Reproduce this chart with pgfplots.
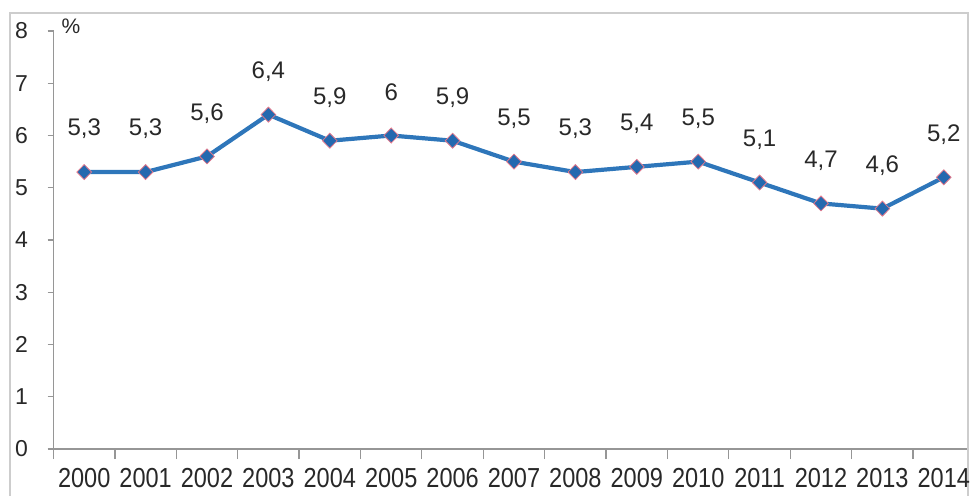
\documentclass[border=0pt]{standalone}
\usepackage{fontspec}
\setmainfont{Liberation Sans}
\usepackage{graphicx}
\usepackage{pgfplots}
\pgfplotsset{compat=1.18}
\definecolor{lineblue}{RGB}{46,118,186}
\definecolor{mkblue}{RGB}{36,105,175}
\definecolor{mkedge}{RGB}{225,120,140}
\definecolor{axgray}{RGB}{150,150,150}
\definecolor{frgray}{RGB}{205,205,205}
\definecolor{txt}{RGB}{40,40,40}
\newcommand\xl[1]{\scalebox{1.07}[1.25]{#1}}
\begin{document}
\begin{tikzpicture}[x=1pt,y=1pt]
\path[use as bounding box, clip] (0,0) rectangle (973,495);
\draw[frgray, line width=1.2pt] (10,-20) -- (10,482) -- (968,482) -- (968,-20);
\begin{axis}[at={(53.5pt,46pt)}, anchor=south west, scale only axis,
  width=913pt, height=418pt,
  xmin=-0.5, xmax=14.37, ymin=0, ymax=8,
  axis lines=left, axis line style={-, axgray, line width=1.5pt},
  clip=false,
  /pgf/number format/assume math mode=true,
  xtick={0,...,14},
  xticklabels={\xl{2000},\xl{2001},\xl{2002},\xl{2003},\xl{2004},\xl{2005},\xl{2006},\xl{2007},\xl{2008},\xl{2009},\xl{2010},\xl{2011},\xl{2012},\xl{2013},\xl{2014}},
  major x tick style={draw=none},
  minor xtick={-0.5,0.5,...,13.5},
  minor tick length=10pt,
  ytick={0,...,8},
  major tick length=6pt,
  tick align=outside,
  tick style={axgray, line width=1.2pt},
  tick label style={font=\fontsize{22}{24}\selectfont, text=txt},
  yticklabel style={anchor=west, xshift=-36pt, font=\fontsize{23}{24}\selectfont},
  xticklabel style={anchor=north, yshift=-13pt, inner sep=0pt},
  point meta=explicit symbolic,
  nodes near coords,
  nodes near coords style={anchor=center, yshift=43pt, font=\fontsize{24}{26}\selectfont, text=txt},
]
\addplot[color=lineblue, line width=4.2pt, mark=diamond*, mark size=7.5pt,
  mark options={fill=mkblue, draw=mkedge, line width=0.8pt, xscale=1.3}]
coordinates {
(0,5.3) [5,3]
(1,5.3) [5,3]
(2,5.6) [5,6]
(3,6.4) [6,4]
(4,5.9) [5,9]
(5,6.0) [6]
(6,5.9) [5,9]
(7,5.5) [5,5]
(8,5.3) [5,3]
(9,5.4) [5,4]
(10,5.5) [5,5]
(11,5.1) [5,1]
(12,4.7) [4,7]
(13,4.6) [4,6]
(14,5.2) [5,2]
};
\node[anchor=west, font=\fontsize{21}{22}\selectfont, text=txt, inner sep=0pt] at (axis cs:-0.5,8) [xshift=8pt, yshift=5pt] {\%};
\end{axis}
\end{tikzpicture}
\end{document}
